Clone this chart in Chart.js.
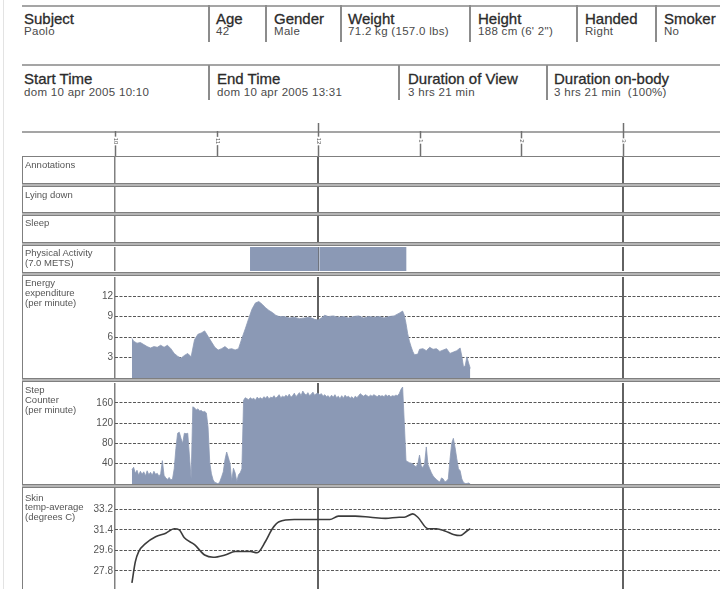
<!DOCTYPE html>
<html lang="it">
<head>
<meta charset="utf-8">
<title>Paolo – dom 10 apr 2005</title>
<script src="https://cdn.jsdelivr.net/npm/chart.js@4.4.1/dist/chart.umd.min.js"></script>
<style>
  html, body { margin: 0; padding: 0; }
  body { width: 720px; height: 589px; overflow: hidden; position: relative; background: #fff;
         font-family: "Liberation Sans", Arial, sans-serif; }
  .edge { position: absolute; left: 3px; top: 0; width: 1px; height: 589px; background: #e3e3e3; }
  .rule { position: absolute; left: 22px; width: 698px; height: 2px; background: #a5a5a5; }
  .sep  { position: absolute; width: 1.5px; background: #8c8c8c; }
  .hd   { position: absolute; font-size: 15px; line-height: 15px; color: #2b2b2b; white-space: nowrap;
          -webkit-text-stroke: 0.3px #2b2b2b; }
  .val  { position: absolute; font-size: 11.5px; line-height: 11.5px; color: #4a4a4a; letter-spacing: 0.3px; white-space: nowrap; }
  .band { position: absolute; left: 22px; top: 156px; width: 700px; height: 440px; background: #b5b5b5; }
  .box  { position: absolute; left: 22px; width: 700px; box-sizing: border-box; border: 1px solid #7f7f7f; background: #fff; }
  .lbl  { position: absolute; left: 25px; font-size: 9.5px; line-height: 9.8px; color: #555; white-space: nowrap; }
  .plot { position: absolute; left: 22px; width: 698px; }
  .plot canvas { display: block; }
</style>
</head>
<body>
<div class="edge"></div>

<!-- subject details -->
<div class="rule" style="top:4.5px"></div>
<div class="sep" style="left:208px;top:5px;height:37px"></div>
<div class="sep" style="left:265px;top:5px;height:37px"></div>
<div class="sep" style="left:340px;top:5px;height:37px"></div>
<div class="sep" style="left:469px;top:5px;height:37px"></div>
<div class="sep" style="left:576px;top:5px;height:37px"></div>
<div class="sep" style="left:655px;top:5px;height:37px"></div>
<div class="hd"  style="left:24px;top:10.5px">Subject</div>
<div class="val" style="left:24px;top:26px">Paolo</div>
<div class="hd"  style="left:216px;top:10.5px">Age</div>
<div class="val" style="left:216px;top:26px">42</div>
<div class="hd"  style="left:274px;top:10.5px">Gender</div>
<div class="val" style="left:274px;top:26px">Male</div>
<div class="hd"  style="left:348px;top:10.5px">Weight</div>
<div class="val" style="left:348px;top:26px">71.2 kg (157.0 lbs)</div>
<div class="hd"  style="left:478px;top:10.5px">Height</div>
<div class="val" style="left:478px;top:26px">188 cm (6' 2")</div>
<div class="hd"  style="left:585px;top:10.5px">Handed</div>
<div class="val" style="left:585px;top:26px">Right</div>
<div class="hd"  style="left:664px;top:10.5px">Smoker</div>
<div class="val" style="left:664px;top:26px">No</div>

<!-- session details -->
<div class="rule" style="top:64px"></div>
<div class="sep" style="left:208px;top:65px;height:35px"></div>
<div class="sep" style="left:398px;top:65px;height:35px"></div>
<div class="sep" style="left:546px;top:65px;height:35px"></div>
<div class="hd"  style="left:24px;top:70.5px">Start Time</div>
<div class="val" style="left:24px;top:87px">dom 10 apr 2005 10:10</div>
<div class="hd"  style="left:217px;top:70.5px">End Time</div>
<div class="val" style="left:217px;top:87px">dom 10 apr 2005 13:31</div>
<div class="hd"  style="left:408px;top:70.5px">Duration of View</div>
<div class="val" style="left:408px;top:87px">3 hrs 21 min</div>
<div class="hd"  style="left:554px;top:70.5px">Duration on-body</div>
<div class="val" style="left:554px;top:87px">3 hrs 21 min&nbsp; (100%)</div>

<!-- hour ruler -->
<div class="rule" style="top:130.5px"></div>
<div class="plot" style="top:118px;height:39px"><canvas id="rulerChart" width="698" height="39"></canvas></div>

<!-- panel frames -->
<div class="band"></div>
<div class="box" style="top:156px;height:28px"></div>
<div class="box" style="top:186px;height:27px"></div>
<div class="box" style="top:215px;height:28px"></div>
<div class="box" style="top:245px;height:28px"></div>
<div class="box" style="top:275px;height:104px"></div>
<div class="box" style="top:381px;height:104px"></div>
<div class="box" style="top:487px;height:120px"></div>

<!-- panel plots -->
<div class="plot" style="top:157px;height:26px"><canvas id="annotationsChart" width="698" height="26"></canvas></div>
<div class="plot" style="top:187px;height:25px"><canvas id="lyingChart" width="698" height="25"></canvas></div>
<div class="plot" style="top:216px;height:26px"><canvas id="sleepChart" width="698" height="26"></canvas></div>
<div class="plot" style="top:247px;height:24px"><canvas id="activityChart" width="698" height="24"></canvas></div>
<div class="plot" style="top:277px;height:101px"><canvas id="energyChart" width="698" height="101"></canvas></div>
<div class="plot" style="top:383px;height:101px"><canvas id="stepChart" width="698" height="101"></canvas></div>
<div class="plot" style="top:488px;height:112px"><canvas id="skinChart" width="698" height="112"></canvas></div>

<!-- panel captions -->
<div class="lbl" style="top:160px">Annotations</div>
<div class="lbl" style="top:189.5px">Lying down</div>
<div class="lbl" style="top:218px">Sleep</div>
<div class="lbl" style="top:248px">Physical Activity<br>(7.0 METS)</div>
<div class="lbl" style="top:278px">Energy<br>expenditure<br>(per minute)</div>
<div class="lbl" style="top:385px">Step<br>Counter<br>(per minute)</div>
<div class="lbl" style="top:492.5px">Skin<br>temp-average<br>(degrees C)</div>

<script>
// ---- clock ruler ----
const rulerHours  = [10, 11, 12, 13, 14, 15];
const rulerLabels = ['10', '11', '12', '1', '2', '3'];
const majorHours  = [12, 15];

// ---- physical activity blocks (7.0 METS) ----
const activityStart = ['11:20', '12:01'];
const activityEnd   = ['12:00', '12:52'];

// ---- energy expenditure (per minute) ----
const energyTime = ['10:10','10:11','10:13','10:15','10:17','10:19','10:21','10:23','10:25','10:27','10:29','10:31',
  '10:33','10:35','10:37','10:39','10:41','10:43','10:45','10:47','10:49','10:51','10:53','10:55','10:57','10:59',
  '11:01','11:03','11:05','11:07','11:09','11:11','11:13','11:15','11:17','11:19','11:21','11:23','11:25','11:27',
  '11:29','11:31','11:33','11:35','11:37','11:40','11:43','11:46','11:49','11:52','11:55','11:58','12:00','12:02',
  '12:04','12:06','12:09','12:12','12:15','12:18','12:21','12:24','12:27','12:30','12:33','12:36','12:39','12:42',
  '12:45','12:48','12:50','12:51','12:52','12:53','12:54','12:55','12:56','12:57','12:59','13:00','13:02','13:04',
  '13:06','13:08','13:10','13:12','13:14','13:16','13:18','13:20','13:22','13:24','13:25','13:26','13:27','13:28',
  '13:29','13:30'];
const energyValue = [5.8,5.4,5.1,5.2,4.9,4.6,4.4,4.6,4.5,4.8,4.5,4.8,
  4.3,3.6,3.2,2.9,3.3,3.6,3.1,5.6,6.4,6.6,6.9,6.1,5.3,4.5,
  4.1,4.3,4.6,4.2,4.3,4.1,4.3,5.8,7.2,8.7,10.1,11.0,11.2,10.8,
  10.3,9.9,9.6,9.2,9.0,9.0,8.8,8.9,8.7,8.8,8.9,8.6,8.5,8.8,
  9.2,9.0,9.1,8.9,9.0,8.8,9.0,9.1,8.8,9.0,8.9,9.0,8.8,9.0,
  9.1,9.5,9.8,9.2,8.0,6.5,5.4,4.6,3.9,3.4,3.5,4.2,4.3,4.0,
  4.5,4.2,4.3,3.9,4.1,4.3,3.6,3.8,4.0,4.4,3.2,1.6,1.8,3.1,
  2.2,1.4];

// ---- step counter (per minute) ----
const stepTime = ['10:10','10:11','10:12','10:13','10:14','10:15','10:16','10:17','10:18','10:19','10:20','10:21',
  '10:22','10:23','10:24','10:25','10:26','10:27','10:28','10:29','10:30','10:31','10:32','10:33','10:34','10:35',
  '10:36','10:37','10:38','10:39','10:40','10:41','10:42','10:43','10:44','10:45','10:46','10:47','10:48','10:49',
  '10:50','10:51','10:52','10:53','10:54','10:55','10:56','10:57','10:58','10:59','11:00','11:01','11:02','11:03',
  '11:04','11:05','11:06','11:07','11:08','11:09','11:10','11:11','11:12','11:13','11:14','11:15','11:16','11:17',
  '11:18','11:19','11:20','11:21','11:22','11:23','11:24','11:25','11:26','11:27','11:28','11:29','11:30','11:31',
  '11:32','11:33','11:34','11:35','11:36','11:37','11:38','11:39','11:40','11:41','11:42','11:43','11:44','11:45',
  '11:46','11:47','11:48','11:49','11:50','11:51','11:52','11:53','11:54','11:55','11:56','11:57','11:58','11:59',
  '12:00','12:01','12:02','12:03','12:04','12:05','12:06','12:07','12:08','12:09','12:10','12:11','12:12','12:13',
  '12:14','12:15','12:16','12:17','12:18','12:19','12:20','12:21','12:22','12:23','12:24','12:25','12:26','12:27',
  '12:28','12:29','12:30','12:31','12:32','12:33','12:34','12:35','12:36','12:37','12:38','12:39','12:40','12:41',
  '12:42','12:43','12:44','12:45','12:46','12:47','12:48','12:49','12:50','12:51','12:52','12:53','12:54','12:55',
  '12:56','12:57','12:58','12:59','13:00','13:01','13:02','13:03','13:04','13:05','13:06','13:07','13:08','13:09',
  '13:10','13:11','13:12','13:13','13:14','13:15','13:16','13:17','13:18','13:19','13:20','13:21','13:22','13:23',
  '13:24','13:25','13:26','13:27','13:28','13:29','13:30'];
const stepValue = [28,33,21,27,17,25,19,24,16,26,18,23,
  17,25,19,21,15,20,46,17,12,9,13,8,10,30,
  70,100,102,90,80,100,99,100,55,10,152,150,146,148,
  144,145,142,143,140,112,42,20,8,3,2,0,5,14,
  24,48,63,52,40,6,31,22,5,18,22,30,165,170,
  168,166,170,167,169,165,171,168,170,167,172,169,173,168,
  171,170,174,169,172,176,170,173,171,175,172,177,171,174,
  179,172,176,180,174,183,178,175,180,174,177,181,175,178,
  179,176,178,173,176,172,174,170,175,171,176,170,173,168,
  174,169,175,171,173,169,172,168,173,170,174,178,175,173,
  176,174,172,175,173,176,174,172,175,173,174,172,176,173,
  175,172,174,173,175,174,178,186,191,120,46,44,42,41,
  40,36,34,40,57,36,32,40,73,38,30,22,16,12,
  9,6,4,12,10,4,6,10,48,80,90,72,50,30,
  26,10,3,1,1,2,0];

// ---- skin temperature, average (degrees C) ----
const skinTime  = ['10:10','10:12','10:14','10:18','10:24','10:30','10:35','10:38','10:41','10:47','10:53','10:58',
  '11:05','11:11','11:20','11:24','11:29','11:33','11:37','11:46','11:58','12:07','12:12','12:22','12:31','12:40',
  '12:48','12:51','12:56','12:59','13:05','13:10','13:15','13:20','13:24','13:28','13:30'];
const skinValue = [26.75,28.6,29.5,30.2,30.8,31.1,31.5,31.4,30.7,30.1,29.2,29.0,
  29.2,29.5,29.5,29.4,30.4,31.5,32.1,32.3,32.3,32.3,32.6,32.6,32.5,32.4,
  32.5,32.5,32.8,32.5,31.5,31.5,31.3,31.0,30.9,31.3,31.5];

// ---- value-axis tick marks ----
const energyTicks = [3, 6, 9, 12];
const stepTicks   = [40, 80, 120, 160];
const skinTicks   = [27.8, 29.6, 31.4, 33.2];

const toHours = t => { const [h, m] = t.split(':').map(Number); return h + m / 60; };
const HOUR_MIN = 10, HOUR_MAX = 15.96;
const FONT = '"Liberation Sans", Arial, sans-serif';
const FILL = '#8b99b5';
const LABEL_AXIS_WIDTH = 93;

// shared time axis: only draws the panel divider (10) and the 12 / 3 o'clock lines
function timeAxis() {
  return {
    type: 'linear', min: HOUR_MIN, max: HOUR_MAX, z: 1,
    afterBuildTicks: s => { s.ticks = [10, ...majorHours].map(v => ({ value: v })); },
    ticks: { display: false },
    grid: {
      drawTicks: false,
      color: c => (c.tick && c.tick.value === 10) ? '#808080' : '#626262',
      lineWidth: c => (c.tick && c.tick.value === 10) ? 1.5 : 2
    },
    border: { display: false },
    afterFit: s => { s.height = 0; s.paddingLeft = 0; s.paddingRight = 0; }
  };
}

function valueAxis(min, max, ticks, fmt) {
  return {
    type: 'linear', min, max,
    afterBuildTicks: s => { s.ticks = ticks.map(v => ({ value: v })); },
    ticks: { font: { family: FONT, size: 10 }, color: '#555', padding: 2, callback: v => fmt(v) },
    grid: { drawTicks: false, color: '#585858', lineWidth: 1 },
    border: { display: false, dash: [3, 1.5] },
    afterFit: s => { s.width = LABEL_AXIS_WIDTH; s.paddingTop = 0; s.paddingBottom = 0; }
  };
}

function blankAxis(type) {
  return {
    type, min: type === 'linear' ? 0 : undefined, max: type === 'linear' ? 1 : undefined,
    ticks: { display: false }, grid: { display: false }, border: { display: false },
    afterFit: s => { s.width = LABEL_AXIS_WIDTH; s.paddingTop = 0; s.paddingBottom = 0; }
  };
}

function makeChart(id, type, data, yScale, extraOptions = {}) {
  return new Chart(document.getElementById(id), {
    type,
    data,
    options: Object.assign({
      responsive: false, animation: false, devicePixelRatio: 1, events: [],
      layout: { padding: 0 },
      plugins: { legend: { display: false }, tooltip: { enabled: false } },
      scales: { x: timeAxis(), y: yScale }
    }, extraOptions)
  });
}

// hour ruler with rotated clock labels
const rulerPlugin = {
  id: 'hourRuler',
  afterDraw(chart) {
    const { ctx, chartArea } = chart;
    const x = chart.scales.x;
    ctx.save();
    ctx.font = '6px ' + FONT;
    rulerHours.forEach((h, i) => {
      const px = Math.round(x.getPixelForValue(h)) + 0.5;
      ctx.strokeStyle = '#707070';
      ctx.lineWidth = 1.5;
      ctx.beginPath();
      ctx.moveTo(px, majorHours.includes(h) ? 5 : 13);
      ctx.lineTo(px, chartArea.bottom);
      ctx.stroke();
      const w = ctx.measureText(rulerLabels[i]).width;
      ctx.save();
      ctx.translate(px, 23);
      ctx.rotate(Math.PI / 2);
      ctx.fillStyle = '#fff';
      ctx.fillRect(-w / 2 - 1, -3, w + 2, 6);
      ctx.fillStyle = '#555';
      ctx.textAlign = 'center';
      ctx.textBaseline = 'middle';
      ctx.fillText(rulerLabels[i], 0, 0);
      ctx.restore();
    });
    ctx.restore();
  }
};

new Chart(document.getElementById('rulerChart'), {
  type: 'line',
  data: { datasets: [] },
  options: {
    responsive: false, animation: false, devicePixelRatio: 1, events: [],
    layout: { padding: { left: LABEL_AXIS_WIDTH } },
    plugins: { legend: { display: false }, tooltip: { enabled: false } },
    scales: {
      x: { type: 'linear', min: HOUR_MIN, max: HOUR_MAX, display: false },
      y: { display: false }
    }
  },
  plugins: [rulerPlugin]
});

// empty state panels
['annotationsChart', 'lyingChart', 'sleepChart'].forEach(id =>
  makeChart(id, 'line', { datasets: [] }, blankAxis('linear')));

// physical activity blocks
makeChart('activityChart', 'bar', {
  labels: ['Physical Activity'],
  datasets: activityStart.map((s, i) => ({
    data: [[toHours(s), toHours(activityEnd[i])]],
    backgroundColor: FILL, borderWidth: 0, borderSkipped: false,
    barPercentage: 1, categoryPercentage: 1, grouped: false
  }))
}, blankAxis('category'), { indexAxis: 'y' });

const series = (times, values) => times.map((t, i) => ({ x: toHours(t), y: values[i] }));

makeChart('energyChart', 'line', {
  datasets: [{
    data: series(energyTime, energyValue),
    fill: 'origin', backgroundColor: FILL, borderColor: FILL, borderWidth: 0.8,
    pointRadius: 0, tension: 0
  }]
}, valueAxis(0, 14.8, energyTicks, v => String(v)));

makeChart('stepChart', 'line', {
  datasets: [{
    data: series(stepTime, stepValue),
    fill: 'origin', backgroundColor: FILL, borderColor: FILL, borderWidth: 0.8,
    pointRadius: 0, tension: 0
  }]
}, valueAxis(0, 199, stepTicks, v => String(v)));

makeChart('skinChart', 'line', {
  datasets: [{
    data: series(skinTime, skinValue),
    fill: false, borderColor: '#3c3c3c', borderWidth: 1.6,
    pointRadius: 0, cubicInterpolationMode: 'monotone'
  }]
}, valueAxis(25.26, 35.06, skinTicks, v => v.toFixed(1)));
</script>
</body>
</html>
